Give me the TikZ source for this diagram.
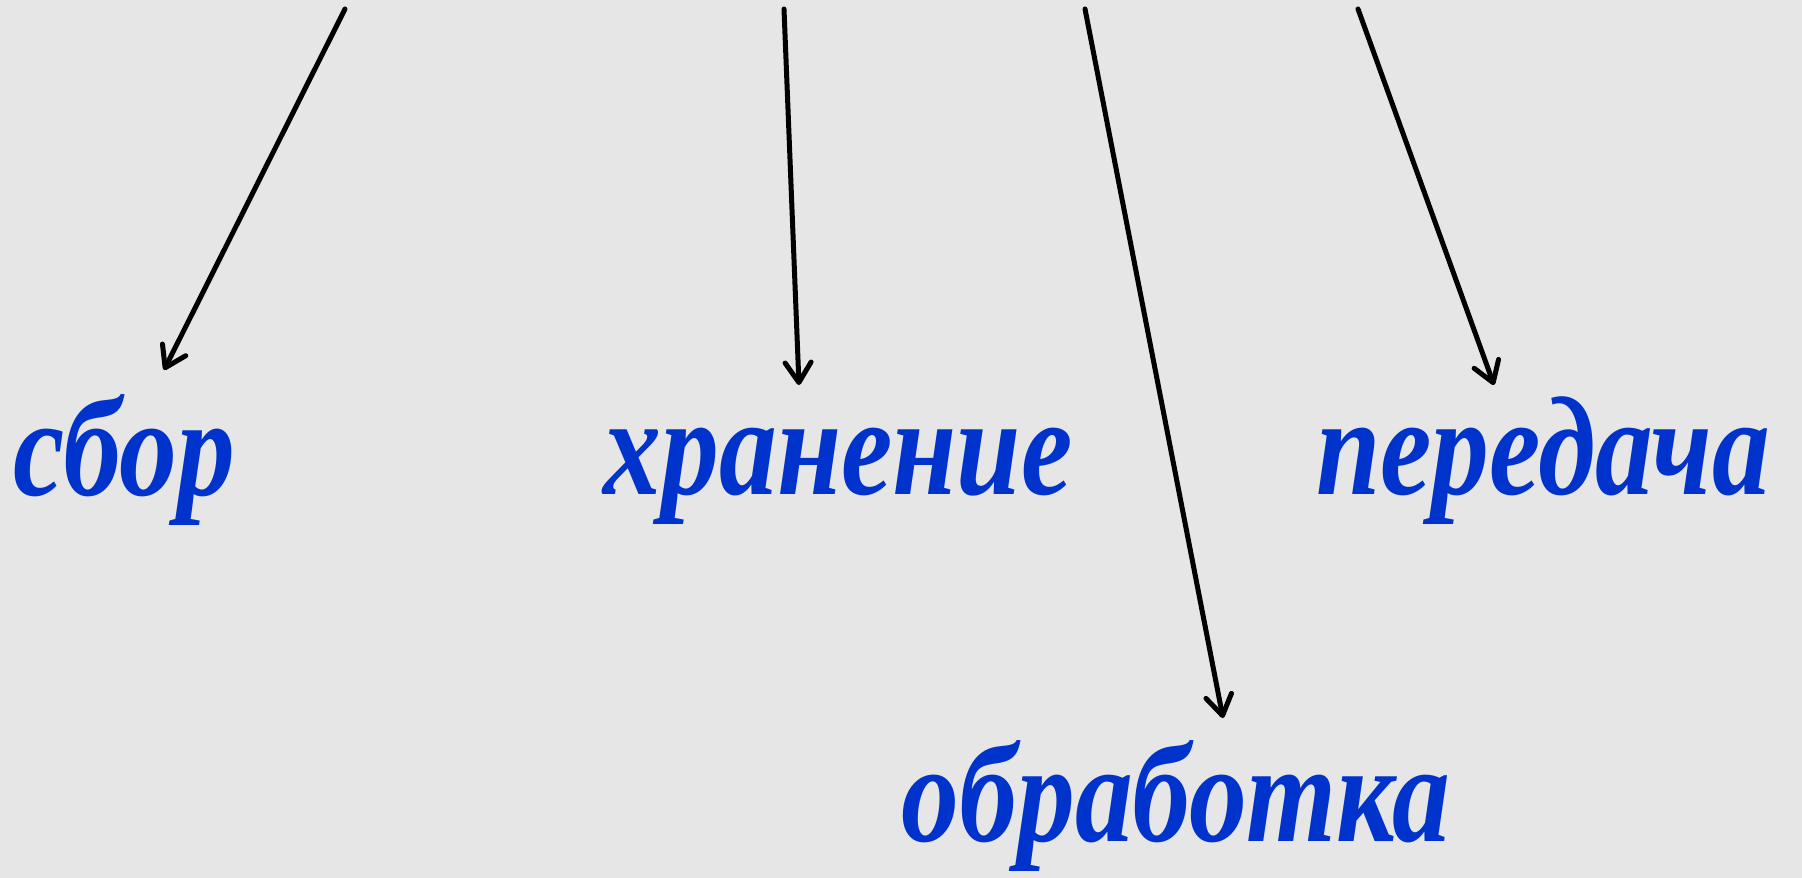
\documentclass[tikz,border=0pt]{standalone}
\usepackage{fontspec}
\setmainfont{Liberation Serif}
\newfontfamily\wordfont{Liberation Serif}[FakeStretch=0.82]
\usetikzlibrary{arrows.meta}
\definecolor{bg}{HTML}{E6E6E6}
\definecolor{wordblue}{HTML}{0033CC}
\begin{document}
\begin{tikzpicture}[x=1pt,y=-1pt,
  word/.style={anchor=base,inner sep=0pt,text=wordblue,
    font=\fontsize{141}{150}\selectfont\wordfont\bfseries\itshape},
  arr/.style={line width=5pt,line cap=round,
    -{Straight Barb[length=20pt,width=26pt,line width=5pt,round]}}]
\fill[bg] (0,0) rectangle (1802,878);
\useasboundingbox (0,0) rectangle (1802,878);
\node[word] (sbor) at (124,495) {сбор};
\node[word] (hran) at (838,494) {хранение};
\node[word] (pered) at (1543,494) {передача};
\node[word] (obr) at (1176,841) {обработка};
\coordinate (s1) at (345,9);
\coordinate (t1) at (164,370);
\coordinate (s2) at (784,9);
\coordinate (t2) at (799,385);
\coordinate (s3) at (1085,9);
\coordinate (t3) at (1223,718);
\coordinate (s4) at (1358,9);
\coordinate (t4) at (1494,385);
\draw[arr] (s1) -- (t1);
\draw[arr] (s2) -- (t2);
\draw[arr] (s3) -- (t3);
\draw[arr] (s4) -- (t4);
\end{tikzpicture}
\end{document}
